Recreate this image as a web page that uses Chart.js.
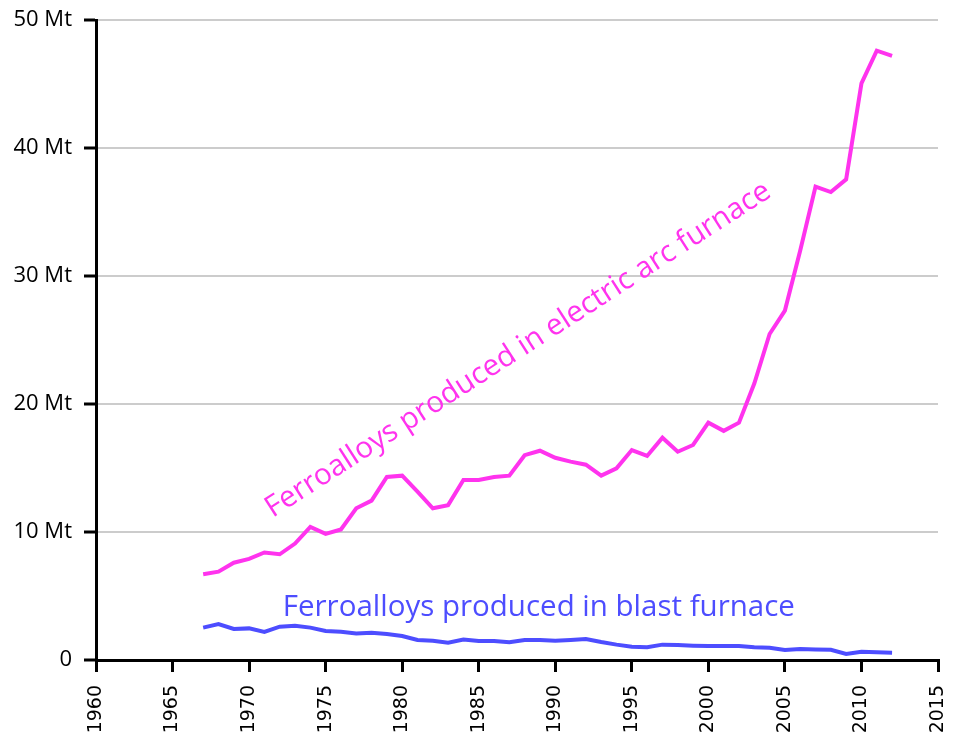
<!DOCTYPE html>
<html>

<head>
    <title>Ferroalloy production</title>
    <script src="https://cdn.jsdelivr.net/npm/chart.js"></script>
    <style>
        body {
            margin: 0;
            background: white;
        }

        canvas {
            display: block;
        }
    </style>
</head>

<body>
    <canvas id="ferroChart" width="960" height="750"></canvas>

    <script>
        const years = [1967, 1968, 1969, 1970, 1971, 1972, 1973, 1974, 1975, 1976,
            1977, 1978, 1979, 1980, 1981, 1982, 1983, 1984, 1985, 1986,
            1987, 1988, 1989, 1990, 1991, 1992, 1993, 1994, 1995, 1996,
            1997, 1998, 1999, 2000, 2001, 2002, 2003, 2004, 2005, 2006,
            2007, 2008, 2009, 2010, 2011, 2012];

        // Mt per year
        const electricArc = [6.7, 6.9, 7.6, 7.9, 8.4, 8.26, 9.1, 10.4, 9.85, 10.2,
            11.85, 12.45, 14.3, 14.4, 13.15, 11.85, 12.1, 14.06, 14.06, 14.3,
            14.4, 16.0, 16.35, 15.8, 15.5, 15.26, 14.4, 14.97, 16.4, 15.94,
            17.37, 16.27, 16.8, 18.54, 17.9, 18.54, 21.6, 25.47, 27.3, 32.0,
            36.98, 36.56, 37.55, 45.05, 47.6, 47.2];

        const blastFurnace = [2.53, 2.8, 2.42, 2.47, 2.2, 2.6, 2.68, 2.53, 2.27, 2.2,
            2.08, 2.13, 2.03, 1.87, 1.56, 1.5, 1.35, 1.6, 1.48, 1.48,
            1.38, 1.56, 1.56, 1.5, 1.56, 1.64, 1.4, 1.2, 1.04, 1.0,
            1.2, 1.17, 1.12, 1.09, 1.09, 1.09, 1.0, 0.96, 0.78, 0.86,
            0.82, 0.8, 0.47, 0.65, 0.6, 0.57];

        const yTicks = [0, 10, 20, 30, 40, 50];

        const arcColor = '#ff33ee';
        const blastColor = '#4d4dff';

        // in-plot labels, anchored in data units (year, Mt)
        const labels = [
            { text: 'Ferroalloys produced in electric arc furnace', x: 1971.55, y: 11.1, angle: -32.8, color: arcColor },
            { text: 'Ferroalloys produced in blast furnace', x: 1972.2, y: 3.45, angle: 0, color: blastColor }
        ];

        const labelPlugin = {
            id: 'seriesLabels',
            afterDatasetsDraw(chart) {
                const ctx = chart.ctx;
                const xs = chart.scales.x;
                const ys = chart.scales.y;
                ctx.save();
                ctx.font = '29.5px "Open Sans"';
                ctx.textAlign = 'left';
                ctx.textBaseline = 'alphabetic';
                labels.forEach(l => {
                    ctx.save();
                    ctx.translate(xs.getPixelForValue(l.x), ys.getPixelForValue(l.y));
                    ctx.rotate(l.angle * Math.PI / 180);
                    ctx.fillStyle = l.color;
                    ctx.fillText(l.text, 0, 0);
                    ctx.restore();
                });
                ctx.restore();
            }
        };

        function toPoints(values) {
            return values.map((v, i) => ({ x: years[i], y: v }));
        }

        new Chart(document.getElementById('ferroChart'), {
            type: 'line',
            data: {
                datasets: [{
                    label: 'Electric arc furnace',
                    data: toPoints(electricArc),
                    borderColor: arcColor,
                    borderWidth: 4,
                    pointRadius: 0,
                    fill: false
                }, {
                    label: 'Blast furnace',
                    data: toPoints(blastFurnace),
                    borderColor: blastColor,
                    borderWidth: 4,
                    pointRadius: 0,
                    fill: false
                }]
            },
            options: {
                responsive: false,
                animation: false,
                layout: {
                    padding: { top: 20, right: 22, left: 0, bottom: 0 }
                },
                plugins: {
                    legend: { display: false },
                    tooltip: { enabled: false }
                },
                scales: {
                    x: {
                        type: 'linear',
                        min: 1960,
                        max: 2015,
                        afterFit: s => {
                            s.height = 90;
                            s.paddingLeft = 0;
                            s.paddingRight = 0;
                        },
                        grid: {
                            drawOnChartArea: false,
                            drawTicks: true,
                            tickLength: 12,
                            tickColor: '#000',
                            lineWidth: 3
                        },
                        border: { color: '#000', width: 3 },
                        ticks: {
                            stepSize: 5,
                            minRotation: 90,
                            maxRotation: 90,
                            padding: 13,
                            color: '#000',
                            font: { family: 'DejaVu Sans', size: 19 },
                            callback: v => String(v)
                        }
                    },
                    y: {
                        min: 0,
                        max: 50,
                        afterFit: s => {
                            s.width = 96;
                            s.paddingTop = 0;
                            s.paddingBottom = 0;
                        },
                        afterBuildTicks: s => { s.ticks = yTicks.map(v => ({ value: v })); },
                        grid: {
                            color: '#cccccc',
                            lineWidth: 2,
                            tickLength: 12,
                            tickColor: '#000',
                            tickWidth: 3
                        },
                        border: { color: '#000', width: 3 },
                        ticks: {
                            padding: 12,
                            color: '#000',
                            font: { family: 'Open Sans', size: 22 },
                            callback: v => v === 0 ? '0' : v + ' Mt'
                        }
                    }
                }
            },
            plugins: [labelPlugin]
        });
    </script>
</body>

</html>
